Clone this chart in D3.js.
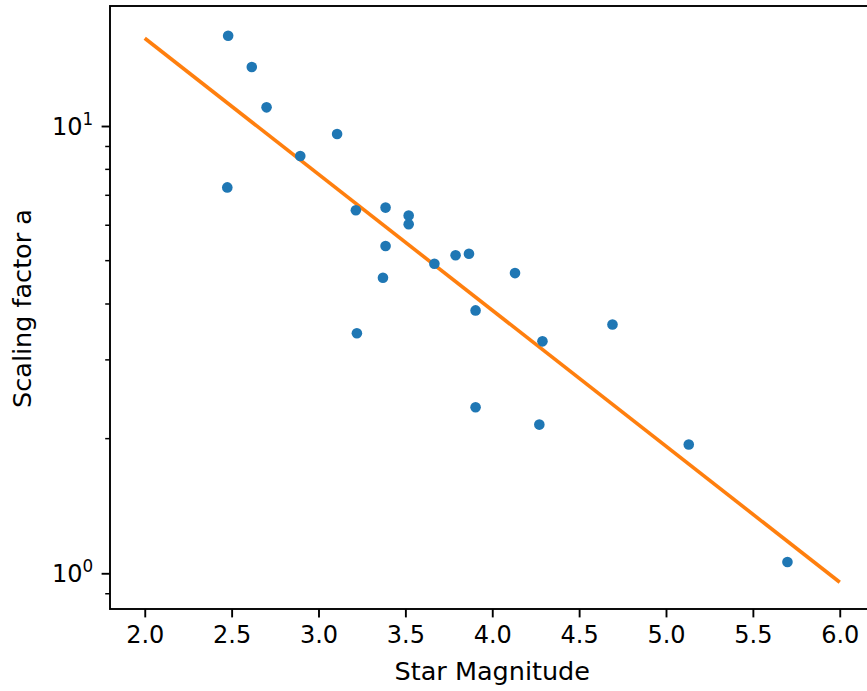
<!DOCTYPE html>
<html><head><meta charset="utf-8">
<script src="https://cdn.jsdelivr.net/npm/d3@7"></script>
<style>body{margin:0;background:#fff}svg{display:block}text{font-family:"DejaVu Sans",sans-serif}</style>
</head><body><svg id="c" width="867" height="691"></svg>
<script>
const magnitudes = [2.480,2.616,2.701,3.107,2.895,2.475,3.215,3.386,3.519,3.519,3.386,3.667,3.789,3.866,3.371,4.131,3.904,3.221,4.289,4.692,3.904,4.271,5.131,5.699];
const scaling    = [15.92,13.55,11.01,9.60,8.57,7.29,6.48,6.57,6.31,6.03,5.39,4.92,5.14,5.18,4.58,4.69,3.87,3.44,3.30,3.60,2.35,2.15,1.94,1.06];
const fitX = [2.0, 6.0];
const fitY = [15.71, 0.955];
const xTicks = [2.0,2.5,3.0,3.5,4.0,4.5,5.0,5.5,6.0];
const yMajor = [1, 10];
const yMinor = [0.9,2,3,4,5,6,7,8,9,20];

const svg = d3.select("#c");
const L=110, R=874.5, T=6, B=609;
const x = d3.scaleLinear().domain([1.8,6.2]).range([L,R]);
const y = d3.scaleLog().domain([0.832,18.55]).range([B,T]);
const FS = 24, LFS = 25.5;

// fit line
svg.append("path")
  .datum(fitX.map((v,i)=>[v,fitY[i]]))
  .attr("d", d3.line().x(d=>x(d[0])).y(d=>y(d[1])))
  .attr("fill","none").attr("stroke","#ff7f0e").attr("stroke-width",3.6);

// points
svg.append("g").selectAll("circle").data(magnitudes.map((m,i)=>[m,scaling[i]]))
  .join("circle").attr("cx",d=>x(d[0])).attr("cy",d=>y(d[1])).attr("r",5.3)
  .attr("fill","#1f77b4");

// x axis
const xa = svg.append("g").attr("transform",`translate(0,${B})`)
  .call(d3.axisBottom(x).tickValues(xTicks).tickFormat(d3.format(".1f")).tickSizeInner(8.4).tickSizeOuter(0).tickPadding(8.4));
xa.select(".domain").remove();
xa.selectAll("line").attr("stroke","#000").attr("stroke-width",1.9);
xa.selectAll("text").attr("font-size",FS).attr("fill","#000").attr("font-family","DejaVu Sans");

// y axis minor
const yMinorVis = yMinor.filter(v=>v>=y.domain()[0]&&v<=y.domain()[1]);
svg.append("g").selectAll("line").data(yMinorVis).join("line")
  .attr("x1",L-4.8).attr("x2",L).attr("y1",d=>y(d)).attr("y2",d=>y(d))
  .attr("stroke","#000").attr("stroke-width",1.5);
// y axis major
const ya = svg.append("g").attr("transform",`translate(${L},0)`)
  .call(d3.axisLeft(y).tickValues(yMajor).tickFormat("").tickSizeInner(8.4).tickSizeOuter(0));
ya.select(".domain").remove();
ya.selectAll("line").attr("stroke","#000").attr("stroke-width",1.9);
yMajor.forEach(v=>{
  const t = svg.append("text").attr("x",L-8.4-8.4).attr("y",y(v)+8.5)
    .attr("text-anchor","end").attr("font-size",FS).attr("fill","#000");
  t.append("tspan").text("10");
  t.append("tspan").attr("font-size",FS*0.7).attr("dy",-10).text(String(Math.round(Math.log10(v))));
});

// frame
svg.append("rect").attr("x",L).attr("y",T).attr("width",R-L).attr("height",B-T)
  .attr("fill","none").attr("stroke","#000").attr("stroke-width",1.9);

// labels
svg.append("text").attr("x",(L+R)/2).attr("y",680).attr("text-anchor","middle")
  .attr("font-size",LFS).attr("fill","#000").text("Star Magnitude");
svg.append("text").attr("transform",`translate(31,${(T+B)/2 + 1}) rotate(-90)`).attr("text-anchor","middle")
  .attr("font-size",LFS).attr("fill","#000").text("Scaling factor a");
</script></body></html>
